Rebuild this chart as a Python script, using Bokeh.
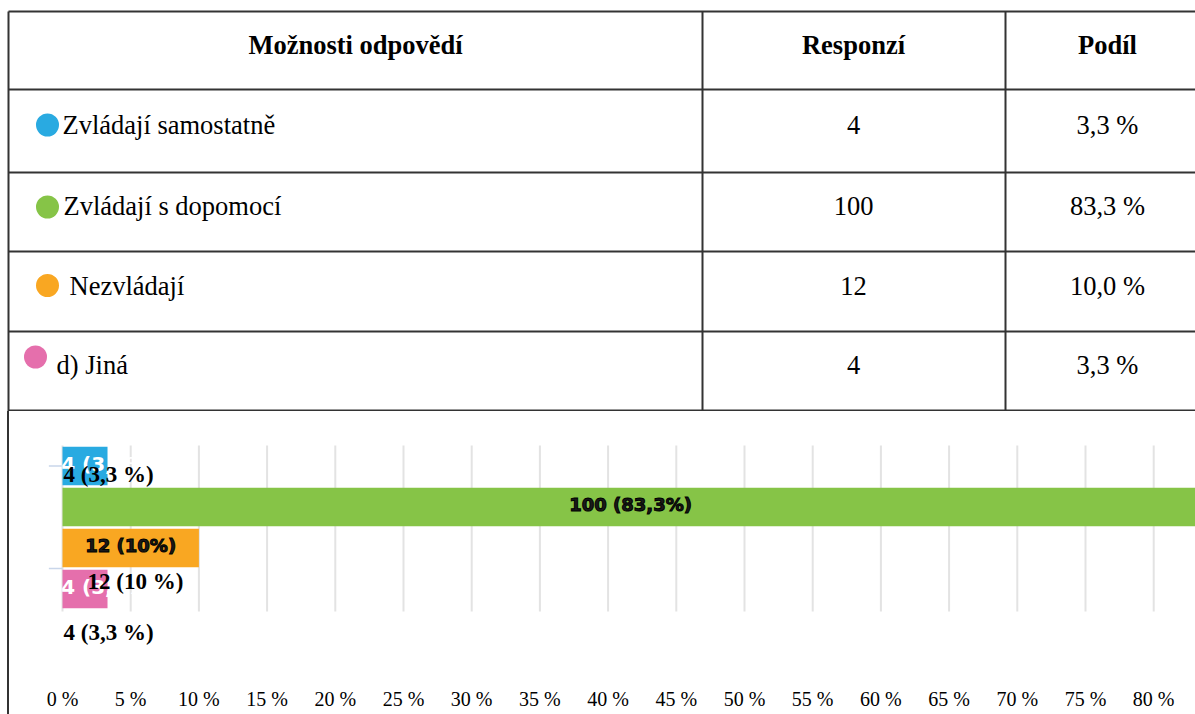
from bokeh.plotting import figure
from bokeh.models import ColumnDataSource, Range1d, FixedTicker, LabelSet, Div, Spacer
from bokeh.layouts import column, row
from bokeh.core.properties import value
from bokeh.embed import file_html
from bokeh.resources import INLINE

# ---------------- data ----------------
categories = ["Zvládají samostatně", "Zvládají s dopomocí", "Nezvládají", "d) Jiná"]
responses = [4, 100, 12, 4]
shares = [3.3, 83.3, 10.0, 3.3]
header_labels = ["Možnosti odpovědí", "Responzí", "Podíl"]
tick_values = [0, 5, 10, 15, 20, 25, 30, 35, 40, 45, 50, 55, 60, 65, 70, 75, 80]
tick_labels = ["0 %", "5 %", "10 %", "15 %", "20 %", "25 %", "30 %", "35 %", "40 %",
               "45 %", "50 %", "55 %", "60 %", "65 %", "70 %", "75 %", "80 %"]
outer_label_categories = ["Zvládají samostatně", "Nezvládají", "d) Jiná"]

# ---------------- styles ----------------
palette = ["#29aae1", "#86c447", "#f9a722", "#e56fac"]
inner_text_colors = ["white", "black", "black", "white"]
SERIF = "Liberation Serif"
SANS = "DejaVu Sans"
LINE = "#333333"
TBL_FONT = "26.5px"


def cz(v, decimals_always=False):
    s = f"{v:.1f}"
    if not decimals_always and s.endswith(".0"):
        s = s[:-2]
    return s.replace(".", ",")


# ---------------- table ----------------
W, H = 1195, 714
TBL_H = 411
tbl = figure(width=W, height=TBL_H, x_range=Range1d(0, W), y_range=Range1d(TBL_H, 0),
             output_backend="svg", toolbar_location=None, min_border=0,
             x_axis_location=None, y_axis_location=None)
tbl.grid.visible = False
tbl.outline_line_color = None

row_lines = [11, 89, 172, 251, 331, 410]
col_lines = [8, 702, 1005]
tbl.segment(x0=[8] * len(row_lines), x1=[W + 5] * len(row_lines), y0=row_lines, y1=row_lines,
            line_color=LINE, line_width=2)
tbl.segment(x0=col_lines, x1=col_lines, y0=[11] * 3, y1=[TBL_H] * 3, line_color=LINE, line_width=2)

col_centers = [355, 853, 1107]
head_y = (row_lines[0] + row_lines[1]) / 2 - 6
tbl.text(x=col_centers, y=[head_y] * 3, text=header_labels, text_font=value(SERIF),
         text_font_style="bold", text_font_size=TBL_FONT, text_align="center",
         text_baseline="middle", text_color="black")

row_y = [(row_lines[i + 1] + row_lines[i + 2]) / 2 - 6 for i in range(len(categories))]
label_x = [62, 63, 69, 56]
tbl.text(x=label_x, y=row_y, text=categories, text_font=value(SERIF), text_font_size=TBL_FONT,
         text_align="left", text_baseline="middle", text_color="black")
tbl.text(x=[col_centers[1]] * 4, y=row_y, text=[str(r) for r in responses], text_font=value(SERIF),
         text_font_size=TBL_FONT, text_align="center", text_baseline="middle", text_color="black")
tbl.text(x=[col_centers[2]] * 4, y=row_y, text=[cz(s, True) + " %" for s in shares],
         text_font=value(SERIF), text_font_size=TBL_FONT, text_align="center",
         text_baseline="middle", text_color="black")

circle_x = [47, 47, 47, 35]
circle_dy = [0, 1, 0, -8]
tbl.scatter(x=circle_x, y=[y + d for y, d in zip(row_y, circle_dy)], size=23,
            fill_color=palette, line_color=None)

# ---------------- chart ----------------
CH_H = H - TBL_H
LEFT_PAD = 10          # page x where the chart frame starts
px_per_pct = 13.64
x0_px = 62             # page x of 0 %
n = len(categories)
pos = [n - 1 - i for i in range(n)]   # top bar first

ch = figure(width=W - LEFT_PAD, height=CH_H,
            x_range=Range1d((LEFT_PAD - x0_px) / px_per_pct, (W - x0_px) / px_per_pct),
            y_range=Range1d(-1.5, n - 0.5),
            output_backend="svg", toolbar_location=None,
            min_border_top=34, min_border_left=0, min_border_right=0, min_border_bottom=64,
            y_axis_location=None)
ch.outline_line_color = None
ch.grid.visible = False

# vertical gridlines over the bar area only
ch.segment(x0=tick_values, x1=tick_values, y0=[-0.55] * len(tick_values),
           y1=[n - 0.45] * len(tick_values), line_color="#e3e3e3", line_width=2)
# small y-axis tick marks at the left of the bars
ch.segment(x0=[-1.0, -1.0], x1=[0, 0], y0=[pos[0], pos[2] - 0.5], y1=[pos[0], pos[2] - 0.5],
           line_color="#c9d6ea", line_width=1.5)

ax = ch.xaxis[0]
ax.ticker = FixedTicker(ticks=tick_values)
ax.major_label_overrides = {v: l for v, l in zip(tick_values, tick_labels)}
ax.axis_line_color = None
ax.major_tick_line_color = None
ax.minor_tick_line_color = None
ax.major_tick_out = 0
ax.major_tick_in = 0
ax.major_label_standoff = 37
ax.major_label_text_font = SERIF
ax.major_label_text_font_size = "20px"
ax.major_label_text_color = "black"

src = ColumnDataSource(dict(pos=pos, share=shares, color=palette))
ch.hbar(y="pos", left=0, right="share", height=0.94, fill_color="color", line_color=None,
        source=src)

inner_text = [f"{r} ({cz(s)}%)" for r, s in zip(responses, shares)]
fits = [s > 8 for s in shares]
dark = dict(x=[], y=[], t=[])
light = dict(x=[], y=[], t=[])
for p_, s, t, tc, f in zip(pos, shares, inner_text, inner_text_colors, fits):
    d = dark if tc == "black" else light
    d["x"].append(s / 2 if f else -0.1)
    d["y"].append(p_ + 0.05)
    d["t"].append(t)
ch.text(x="x", y="y", text="t", source=ColumnDataSource(light), text_font=value(SANS),
        text_font_style="bold", text_font_size="20px", text_align="left",
        text_baseline="middle", text_color="white")
ch.text(x="x", y="y", text="t", source=ColumnDataSource(dark), text_font=value(SANS),
        text_font_style="bold", text_font_size="18px", text_align="center",
        text_baseline="middle", text_color="#1a1a1a", text_outline_color="black")

outer = dict(x=[], y=[], t=[], dx=[], dy=[])
outer_dx = [1, 25, 1]
outer_dy = [-8, -33, -43]
for i, c in enumerate(outer_label_categories):
    k = categories.index(c)
    outer["x"].append(0)
    outer["y"].append(pos[k])
    outer["t"].append(f"{responses[k]} ({cz(shares[k])} %)")
    outer["dx"].append(outer_dx[i])
    outer["dy"].append(outer_dy[i])
ch.add_layout(LabelSet(x="x", y="y", text="t", x_offset="dx", y_offset="dy",
                       source=ColumnDataSource(outer), text_font=value(SERIF),
                       text_font_style="bold", text_font_size="23px", text_align="left",
                       text_baseline="middle", text_color="black"))

gap = Spacer(width=7, height=CH_H, margin=0)
border = Div(width=2, height=CH_H, margin=0, styles={"background-color": LINE})
layout = column(tbl, row(gap, border, Spacer(width=1, height=CH_H, margin=0), ch))

open("out.html", "w").write(file_html(layout, INLINE))
